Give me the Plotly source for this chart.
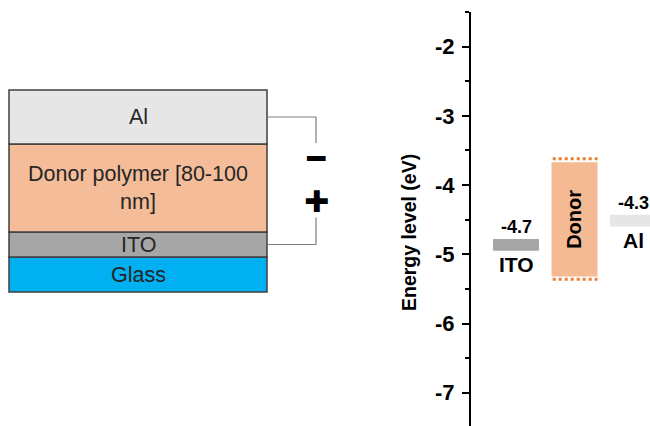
import numpy as np
import plotly.graph_objects as go

# ---------------- data ----------------
# Device stack (schematic layer thicknesses, bottom -> top)
layer_names = ["Glass", "ITO", "Donor polymer [80-100<br>nm]", "Al"]
layer_thick = [35, 25, 88, 54]

# Energy levels (eV)
materials = ["ITO", "Donor", "Al"]
level_top = [-4.78, -3.67, -4.43]
level_bottom = [-4.95, -5.32, -4.60]
wf_labels = {"ITO": "-4.7", "Al": "-4.3"}
donor_lumo = -3.62
donor_homo = -5.36

y_ticks = [-7, -6, -5, -4, -3, -2]

# ---------------- styles ----------------
W, H = 650, 426
FONT = "Liberation Sans, Arial, sans-serif"
layer_colors = ["#00B0F0", "#A6A6A6", "#F4BC99", "#E6E6E6"]
level_colors = ["#A6A6A6", "#F4BA94", "#E6E6E6"]
orange = "#ED7D31"
wire_col = "#7F7F7F"

fig = go.Figure()

# ---- left: device stack ----
bases = np.concatenate([[0], np.cumsum(layer_thick)[:-1]])
fig.add_trace(go.Bar(
    x=[0] * len(layer_thick), y=layer_thick, base=bases, width=1,
    marker=dict(color=layer_colors, line=dict(color="#3F3F3F", width=1.5)),
    xaxis="x2", yaxis="y2", hoverinfo="skip", showlegend=False))

for name, b, t in zip(layer_names, bases, layer_thick):
    fig.add_annotation(x=0, y=b + t / 2, xref="x2", yref="y2", text=name,
                       showarrow=False, font=dict(family=FONT, size=21.5, color="#262626"))

# circuit wire
al_mid = bases[3] + layer_thick[3] / 2
ito_mid = bases[1] + layer_thick[1] / 2
edge = 0.5
wx = edge + 0.19
fig.add_trace(go.Scatter(x=[edge, wx, wx], y=[al_mid, al_mid, al_mid - 26],
                         mode="lines", line=dict(color=wire_col, width=1.2),
                         xaxis="x2", yaxis="y2", hoverinfo="skip", showlegend=False))
fig.add_trace(go.Scatter(x=[edge, wx, wx], y=[ito_mid, ito_mid, ito_mid + 27],
                         mode="lines", line=dict(color=wire_col, width=1.2),
                         xaxis="x2", yaxis="y2", hoverinfo="skip", showlegend=False))
fig.add_annotation(x=wx, y=al_mid - 41, xref="x2", yref="y2", text="━",
                   showarrow=False, font=dict(family="DejaVu Sans", size=30, color="black"))
fig.add_annotation(x=wx, y=ito_mid + 43, xref="x2", yref="y2", text="✚",
                   showarrow=False, font=dict(family="DejaVu Sans", size=30, color="black"))

# ---- right: energy levels ----
pos = np.arange(len(materials))
bw = 0.786
fig.add_trace(go.Bar(
    x=pos, y=np.array(level_top) - np.array(level_bottom), base=level_bottom,
    width=bw, marker=dict(color=level_colors, line=dict(width=0)),
    hoverinfo="skip", showlegend=False))

d = materials.index("Donor")
for lv in (donor_lumo, donor_homo):
    fig.add_trace(go.Scatter(x=[d - bw / 2 + 0.02, d + bw / 2], y=[lv, lv], mode="lines",
                             line=dict(color=orange, width=3, dash="3px,3px"),
                             hoverinfo="skip", showlegend=False))

fig.add_annotation(x=d, y=(level_top[d] + level_bottom[d]) / 2, text="<b>Donor</b>",
                   textangle=-90, showarrow=False, font=dict(family=FONT, size=20, color="black"))

for m in ("ITO", "Al"):
    i = materials.index(m)
    fig.add_annotation(x=i, y=level_top[i], text="<b>" + wf_labels[m] + "</b>", yshift=12,
                       showarrow=False, font=dict(family=FONT, size=18, color="black"))
    fig.add_annotation(x=i, y=level_bottom[i], text="<b>" + m + "</b>", yshift=-14,
                       showarrow=False, font=dict(family=FONT, size=21, color="black"))

fig.add_annotation(x=409 / W, y=1 - 233 / H, xref="paper", yref="paper",
                   text="<b>Energy level (eV)</b>", textangle=-90, showarrow=False,
                   font=dict(family=FONT, size=19.5, color="black"))

x_left = 471 / W
fig.update_layout(
    width=W, height=H, margin=dict(l=0, r=0, t=0, b=0),
    paper_bgcolor="white", plot_bgcolor="rgba(0,0,0,0)", barmode="overlay",
    xaxis=dict(domain=[x_left, 1], range=[-0.769, 2.29], visible=False, fixedrange=True),
    yaxis=dict(domain=[0, 1 - 12 / H], range=[-7.48, -1.5], tickvals=y_ticks,
               ticktext=["<b>%d</b>" % v for v in y_ticks], showgrid=False, zeroline=False,
               showline=True, linecolor="black", linewidth=2,
               ticks="outside", ticklen=7, tickwidth=1.5, tickcolor="black",
               ticklabelstandoff=3,
               tickfont=dict(family=FONT, size=22, color="black"),
               minor=dict(dtick=0.5, tick0=-7.5, ticks="outside", ticklen=4, tickwidth=1.5,
                          tickcolor="black", showgrid=False)),
    xaxis2=dict(domain=[0, x_left], range=[-138 / 258, (471 - 138) / 258], visible=False),
    yaxis2=dict(domain=[0, 1], range=[-134, 292], visible=False, anchor="x2"),
)
fig.write_html("out.html")
